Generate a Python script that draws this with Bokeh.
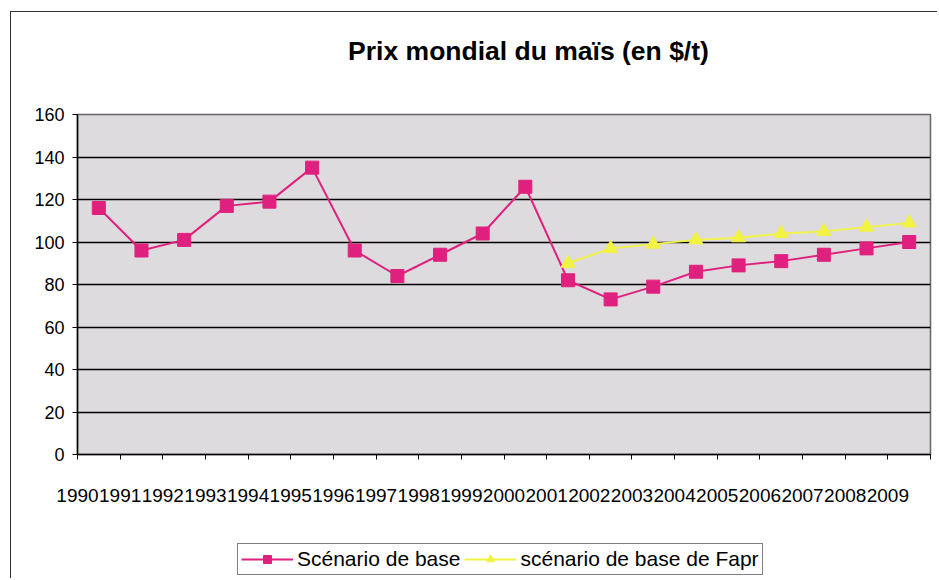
from bokeh.plotting import figure
from bokeh.models import (Range1d, FixedTicker, Legend, LegendItem, Label)
from bokeh.layouts import column
from bokeh.embed import file_html
from bokeh.resources import INLINE

# ---- data ----
years = [str(y) for y in range(1990, 2010)]
base = [116, 96, 101, 117, 119, 135, 96, 84, 94, 104,
        126, 82, 73, 79, 86, 89, 91, 94, 97, 100]
fapri = [None] * 11 + [90, 97, 99, 101, 102, 104, 105, 107, 109]
y_ticks = [0, 20, 40, 60, 80, 100, 120, 140, 160]
title_text = "Prix mondial du maïs (en $/t)"
label_base = "Scénario de base"
label_fapri = "scénario de base de Fapr"

MAGENTA = "#E0207E"
YELLOW = "#F2F242"
FONT = "Liberation Sans"
W = 926

n = len(years)
xs = [i + 0.5 for i in range(n)]
fx = [x for x, v in zip(xs, fapri) if v is not None]
fy = [v for v in fapri if v is not None]


def blank(h):
    f = figure(width=W, height=h, output_backend="svg", toolbar_location=None,
               x_axis_type=None, y_axis_type=None, min_border=0,
               x_range=Range1d(0, 1), y_range=Range1d(0, 1))
    f.outline_line_color = None
    f.background_fill_color = "white"
    f.border_fill_color = "white"
    f.xgrid.grid_line_color = None
    f.ygrid.grid_line_color = None
    return f


# ---- title strip ----
top = blank(90)
top.add_layout(Label(x=451, y=52, x_units="screen", y_units="screen",
                     text=title_text, text_align="center",
                     text_baseline="middle", text_font=FONT,
                     text_font_size="26.5px", text_font_style="bold",
                     text_color="black"))

# ---- main chart ----
p = figure(width=W, height=428, output_backend="svg", toolbar_location=None,
           x_range=Range1d(0, n), y_range=Range1d(y_ticks[0], y_ticks[-1]),
           min_border_left=66, min_border_right=7, min_border_top=12,
           min_border_bottom=76)
p.background_fill_color = "#DDDBDD"
p.border_fill_color = "white"
p.outline_line_color = "#666666"
p.outline_line_width = 1.5

p.xaxis.ticker = FixedTicker(ticks=list(range(n + 1)))
ov = {i: years[i] for i in range(n)}
ov[n] = ""
p.xaxis.major_label_overrides = ov
p.xaxis.minor_tick_line_color = None
p.xaxis.major_tick_in = 0
p.xaxis.major_tick_out = 5
p.xaxis.major_label_standoff = 29
p.xaxis.major_label_text_font = FONT
p.xaxis.major_label_text_font_size = "19px"
p.xaxis.major_label_text_color = "black"
p.xaxis.axis_line_color = "black"
p.xaxis.axis_line_width = 1.5

p.yaxis.ticker = FixedTicker(ticks=y_ticks)
p.yaxis.minor_tick_line_color = None
p.yaxis.major_tick_in = 0
p.yaxis.major_tick_out = 5
p.yaxis.major_label_standoff = 8
p.yaxis.major_label_text_font = FONT
p.yaxis.major_label_text_font_size = "18px"
p.yaxis.major_label_text_color = "black"
p.yaxis.axis_line_color = "black"
p.yaxis.axis_line_width = 1.5

p.xgrid.grid_line_color = None
p.ygrid.grid_line_color = "black"
p.ygrid.grid_line_width = 1.5

p.line(xs, base, line_color=MAGENTA, line_width=2)
p.scatter(xs, base, marker="square", size=13, fill_color=MAGENTA,
          line_color=MAGENTA)
p.line(fx, fy, line_color=YELLOW, line_width=2)
p.scatter(fx, fy, marker="triangle", size=14, fill_color=YELLOW,
          line_color=YELLOW)

# ---- legend strip (proxy glyphs kept outside the visible range) ----
lg = blank(48)
px, py = [-5, -4], [-5, -5]
k1 = lg.line(px, py, line_color=MAGENTA, line_width=2)
s1 = lg.scatter(px, py, marker="square", size=11, fill_color=MAGENTA,
                line_color=MAGENTA)
k2 = lg.line(px, py, line_color=YELLOW, line_width=2)
s2 = lg.scatter(px, py, marker="triangle", size=12, fill_color=YELLOW,
                line_color=YELLOW)
legend = Legend(items=[LegendItem(label=label_base, renderers=[k1, s1]),
                       LegendItem(label=label_fapri, renderers=[k2, s2])],
                orientation="horizontal", location=(160, 3))
legend.label_text_font = FONT
legend.label_text_font_size = "21px"
legend.label_text_color = "black"
legend.border_line_color = "black"
legend.border_line_width = 1.2
legend.background_fill_color = "white"
legend.background_fill_alpha = 1
legend.padding = 3
legend.spacing = 4
legend.margin = 0
legend.glyph_width = 52
legend.glyph_height = 20
legend.label_standoff = 4
lg.add_layout(legend, "center")

layout = column(top, p, lg, spacing=0)
layout.margin = (11, 0, 0, 10)
layout.styles = {"border-left": "1px solid #333", "border-top": "1px solid #333"}

open("out.html", "w").write(file_html(layout, INLINE))
